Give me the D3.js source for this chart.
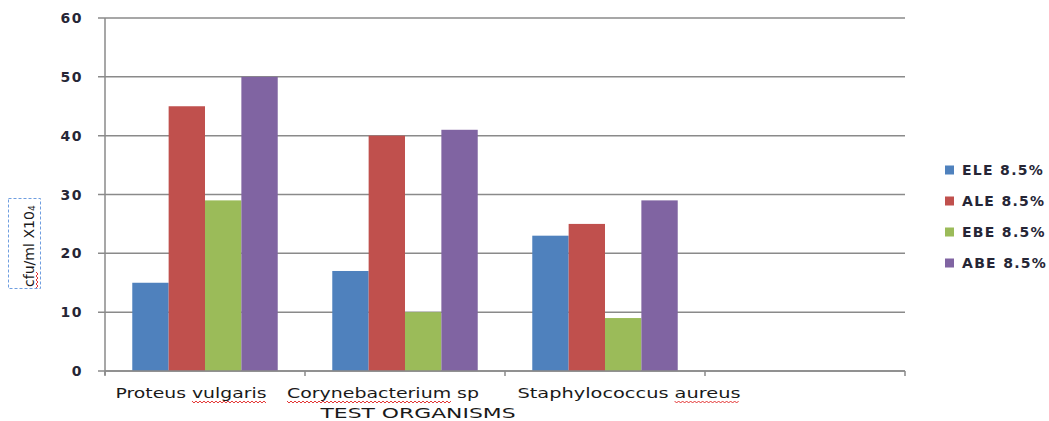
<!DOCTYPE html>
<html>
<head>
<meta charset="utf-8">
<script src="https://cdn.jsdelivr.net/npm/d3@7"></script>
<style>
  html, body { margin: 0; padding: 0; background: #fff; }
  svg { display: block; }
</style>
</head>
<body>
<svg id="chart" width="1049" height="421"></svg>
<script>
// Test organisms (the fourth slot is left empty on the axis)
const categories = ["Proteus vulgaris", "Corynebacterium sp", "Staphylococcus aureus", ""];
// Extract series
const seriesNames = ["ELE 8.5%", "ALE 8.5%", "EBE 8.5%", "ABE 8.5%"];
const ELE = [15, 17, 23];
const ALE = [45, 40, 25];
const EBE = [29, 10, 9];
const ABE = [50, 41, 29];
const yTicks = [0, 10, 20, 30, 40, 50, 60];

const seriesValues = [ELE, ALE, EBE, ABE];
const colors = ["#4f81bd", "#c0504d", "#9bbb59", "#8064a2"];

// Layout of the category labels (width of each text run and its nudge from the band centre)
const labelWidth = [151, 192, 223];
const labelShift = [-14, -22, 24];
// Words that carry a spell-check squiggle
const squiggleWords = [["vulgaris"], ["Corynebacterium"], ["aureus"]];

const svg = d3.select("#chart");
const plot = { left: 105, right: 905, top: 18, bottom: 371 };

const x0 = d3.scaleBand().domain(categories).range([plot.left, plot.right]).paddingInner(0).paddingOuter(0);
const x1 = d3.scaleBand().domain(seriesNames).range([0, x0.bandwidth()]).paddingInner(0).paddingOuter(0.75);
const y = d3.scaleLinear().domain([0, 60]).range([plot.bottom, plot.top]);

const gridColor = "#8a8a8a";

// Horizontal gridlines with small outer ticks on the value axis
svg.append("g")
  .selectAll("line")
  .data(yTicks)
  .join("line")
  .attr("x1", plot.left - 7)
  .attr("x2", plot.right)
  .attr("y1", d => y(d))
  .attr("y2", d => y(d))
  .attr("stroke", gridColor)
  .attr("stroke-width", 1.5);

// Value axis line
svg.append("line")
  .attr("x1", plot.left).attr("x2", plot.left)
  .attr("y1", plot.top).attr("y2", plot.bottom + 4)
  .attr("stroke", gridColor).attr("stroke-width", 1.5);

// Value axis labels
svg.append("g")
  .selectAll("text")
  .data(yTicks)
  .join("text")
  .attr("x", 83)
  .attr("y", d => y(d))
  .attr("dy", "0.36em")
  .attr("text-anchor", "end")
  .attr("font-family", "DejaVu Sans, Verdana, sans-serif")
  .attr("font-weight", "bold")
  .attr("font-size", 14)
  .attr("letter-spacing", 1.5)
  .attr("fill", "#262636")
  .text(d => d);

// Bars
const bars = svg.append("g");
categories.forEach((cat, ci) => {
  seriesValues.forEach((vals, si) => {
    if (ci >= vals.length) return;
    bars.append("rect")
      .attr("x", x0(cat) + x1(seriesNames[si]))
      .attr("y", y(vals[ci]))
      .attr("width", x1.bandwidth())
      .attr("height", y(0) - y(vals[ci]))
      .attr("fill", colors[si]);
  });
});

// Category axis line and tick marks at band boundaries
const xAxis = svg.append("g");
xAxis.append("line")
  .attr("x1", plot.left).attr("x2", plot.right)
  .attr("y1", plot.bottom).attr("y2", plot.bottom)
  .attr("stroke", gridColor).attr("stroke-width", 1.5);
const boundaries = categories.map(c => x0(c)).concat([plot.right]);
xAxis.selectAll("line.tick")
  .data(boundaries)
  .join("line")
  .attr("class", "tick")
  .attr("x1", d => d).attr("x2", d => d)
  .attr("y1", plot.bottom).attr("y2", plot.bottom + 5)
  .attr("stroke", gridColor).attr("stroke-width", 1.5);

// Zig-zag squiggle under a word
function squiggle(g, xa, xb, yy) {
  const pts = [];
  let up = true;
  for (let xx = xa; xx <= xb; xx += 2) {
    pts.push([xx, yy + (up ? -1 : 1)]);
    up = !up;
  }
  g.append("path")
    .attr("d", d3.line()(pts))
    .attr("fill", "none")
    .attr("stroke", "#e0201f")
    .attr("stroke-width", 0.9);
}

// Category labels
const labelFont = "'DejaVu Sans', Verdana, sans-serif";
const catLabels = svg.append("g");
categories.forEach((cat, ci) => {
  if (!cat) return;
  const cx = x0(cat) + x0.bandwidth() / 2 + labelShift[ci];
  const t = catLabels.append("text")
    .attr("x", cx)
    .attr("y", 398)
    .attr("text-anchor", "middle")
    .attr("font-family", labelFont)
    .attr("font-size", 14)
    .attr("fill", "#1a1a1a")
    .attr("textLength", labelWidth[ci])
    .attr("lengthAdjust", "spacingAndGlyphs")
    .text(cat);
  const node = t.node();
  squiggleWords[ci].forEach(w => {
    const idx = cat.indexOf(w);
    if (idx < 0) return;
    const a = node.getStartPositionOfChar(idx).x;
    const b = node.getEndPositionOfChar(idx + w.length - 1).x;
    squiggle(catLabels, a, b, 402);
  });
});

// Category axis title
svg.append("text")
  .attr("x", 418)
  .attr("y", 418)
  .attr("text-anchor", "middle")
  .attr("font-family", labelFont)
  .attr("font-size", 14.5)
  .attr("fill", "#1a1a1a")
  .attr("textLength", 195)
  .attr("lengthAdjust", "spacingAndGlyphs")
  .text("TEST ORGANISMS");

// Value axis title with its dashed selection frame
const yt = svg.append("g");
yt.append("rect")
  .attr("x", 8.5).attr("y", 198.5)
  .attr("width", 32).attr("height", 90)
  .attr("fill", "none")
  .attr("stroke", "#6f9ee0")
  .attr("stroke-width", 1)
  .attr("stroke-dasharray", "3,2");
const ytText = yt.append("text")
  .attr("transform", "translate(34,287) rotate(-90)")
  .attr("font-family", labelFont)
  .attr("font-size", 14)
  .attr("fill", "#1a1a1a");
ytText.append("tspan").attr("textLength", 76).attr("lengthAdjust", "spacingAndGlyphs").text("cfu/ml X10");
ytText.append("tspan").attr("font-size", 9).attr("dy", 1).text("4");
squiggle(yt.append("g").attr("transform", "translate(37,288) rotate(-90)"), 0, 17, 0);

// Legend
const legend = svg.append("g");
const legendY = [170, 201, 232, 263];
seriesNames.forEach((name, i) => {
  legend.append("rect")
    .attr("x", 945).attr("y", legendY[i] - 4.5)
    .attr("width", 9).attr("height", 9)
    .attr("fill", colors[i]);
  legend.append("text")
    .attr("x", 962).attr("y", legendY[i])
    .attr("dy", "0.36em")
    .attr("font-family", "DejaVu Sans, Verdana, sans-serif")
    .attr("font-weight", "bold")
    .attr("font-size", 14)
    .attr("letter-spacing", 1.3)
    .attr("fill", "#262636")
    .text(name);
});
</script>
</body>
</html>
